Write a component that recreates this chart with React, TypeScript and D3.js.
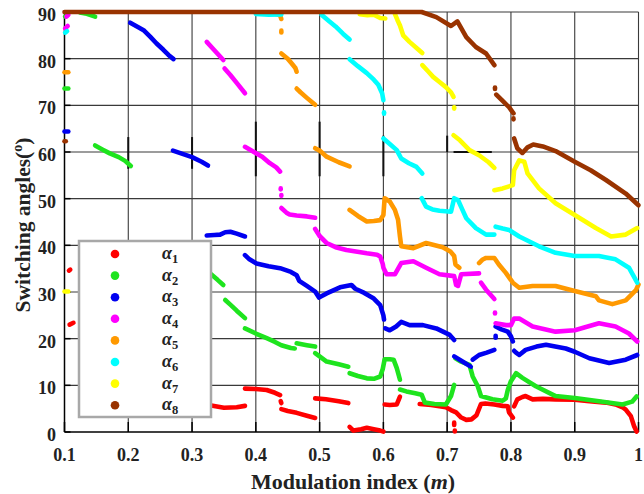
import React from "react";
import * as d3 from "d3";

type Pt = [number, number];
type Seg = Pt[];

// Switching angle solutions (modulation index m, angle in degrees), one list of branches per angle
const alpha1: Seg[] = [
  [[0.107, 34.6], [0.109, 34.8]],
  [[0.108, 23.0], [0.114, 23.4]],
  [[0.3, 5.9], [0.33, 5.7], [0.35, 5.2], [0.37, 5.3], [0.383, 5.6]],
  [[0.383, 9.3], [0.4, 9.2], [0.417, 9.0], [0.43, 8.4], [0.438, 7.9]],
  [[0.439, 6.6], [0.44, 6.2]],
  [[0.44, 4.9], [0.45, 4.5], [0.464, 4.1], [0.48, 3.5], [0.493, 3.0]],
  [[0.493, 7.2], [0.51, 7.0], [0.53, 6.6], [0.545, 6.2]],
  [[0.547, 1.1], [0.553, 0.3], [0.565, 0.6], [0.574, 0.9], [0.585, 0.6], [0.595, 0.3], [0.6, 0.1]],
  [[0.602, 5.9], [0.61, 5.8], [0.621, 5.9], [0.626, 7.6]],
  [[0.657, 6.0], [0.675, 5.8], [0.698, 5.3], [0.706, 4.7], [0.714, 4.2], [0.722, 3.1], [0.73, 2.6],
   [0.738, 2.7], [0.746, 3.6], [0.753, 6.0], [0.76, 6.1], [0.774, 5.9], [0.787, 5.6], [0.795, 5.5],
   [0.797, 4.2], [0.803, 3.1]],
  [[0.711, 2.0], [0.711, 1.5]],
  [[0.712, 0.3], [0.712, 0.1]],
  [[0.805, 5.5], [0.81, 7.0], [0.818, 7.5], [0.823, 7.7], [0.834, 7.0], [0.85, 7.1], [0.87, 7.0],
   [0.9, 6.9], [0.923, 6.6], [0.949, 6.3], [0.964, 5.9], [0.975, 5.3], [0.98, 4.8], [0.988, 3.4],
   [0.993, 1.3], [0.997, 0.1]],
];

const alpha2: Seg[] = [
  [[0.1, 73.6], [0.106, 73.6]],
  [[0.101, 89.0], [0.104, 89.3]],
  [[0.124, 89.9], [0.135, 89.6], [0.148, 89.0]],
  [[0.148, 61.4], [0.16, 60.5], [0.171, 59.7], [0.185, 58.9], [0.195, 58.1], [0.204, 57.0]],
  [[0.31, 36.0], [0.328, 34.0], [0.34, 32.6], [0.349, 31.5]],
  [[0.352, 28.3], [0.36, 27.3], [0.37, 26.0], [0.383, 24.4]],
  [[0.383, 22.2], [0.4, 21.1], [0.417, 20.1], [0.43, 19.3], [0.44, 18.6], [0.455, 18.0], [0.461, 17.9]],
  [[0.464, 19.0], [0.48, 18.6], [0.493, 18.3]],
  [[0.493, 16.9], [0.5, 16.2], [0.511, 15.1], [0.53, 14.5], [0.545, 14.0]],
  [[0.547, 12.6], [0.56, 12.0], [0.574, 11.5], [0.585, 11.4], [0.595, 11.9], [0.599, 13.5],
   [0.602, 15.6], [0.61, 15.6], [0.616, 15.5], [0.621, 13.7], [0.626, 11.2]],
  [[0.626, 9.1], [0.636, 8.7], [0.65, 8.3], [0.66, 8.0], [0.665, 6.3], [0.68, 6.0], [0.698, 5.9],
   [0.706, 7.7], [0.711, 10.1]],
  [[0.713, 15.8], [0.72, 15.2], [0.735, 14.4], [0.74, 11.9], [0.748, 9.8], [0.753, 7.7], [0.771, 7.0],
   [0.787, 6.7], [0.792, 7.2], [0.795, 9.0], [0.8, 10.9], [0.808, 12.6], [0.818, 11.6], [0.839, 9.8],
   [0.87, 7.7], [0.9, 7.3], [0.938, 6.6], [0.975, 5.9], [0.99, 6.5], [0.997, 7.6]],
];

const alpha3: Seg[] = [
  [[0.1, 64.4], [0.106, 64.4]],
  [[0.203, 87.7], [0.215, 86.8], [0.224, 86.1], [0.235, 84.6], [0.244, 83.3], [0.255, 81.9],
   [0.263, 80.8], [0.271, 79.9]],
  [[0.27, 60.3], [0.285, 59.6], [0.3, 58.9], [0.315, 57.9], [0.325, 57.1]],
  [[0.323, 42.1], [0.335, 42.2], [0.344, 42.3], [0.352, 42.8], [0.36, 42.9], [0.37, 42.5], [0.383, 41.9]],
  [[0.383, 37.9], [0.39, 37.0], [0.401, 36.1], [0.42, 35.5], [0.438, 35.1], [0.455, 34.3], [0.464, 33.6],
   [0.468, 32.4], [0.48, 31.3], [0.493, 30.1], [0.499, 28.8], [0.511, 29.7], [0.532, 31.0], [0.55, 31.5],
   [0.556, 30.7], [0.57, 29.8], [0.585, 28.6], [0.595, 27.2], [0.6, 25.0], [0.601, 24.1]],
  [[0.603, 22.2], [0.61, 21.8], [0.62, 22.6], [0.628, 23.6], [0.641, 22.9], [0.662, 22.9], [0.683, 22.2],
   [0.704, 20.8], [0.711, 19.7]],
  [[0.711, 16.2], [0.724, 15.1], [0.737, 14.0]],
  [[0.74, 15.5], [0.75, 16.5], [0.762, 17.0], [0.774, 17.6]],
  [[0.776, 20.2], [0.776, 20.6]],
  [[0.776, 22.6], [0.785, 22.0], [0.795, 21.5], [0.8, 20.5], [0.803, 19.4]],
  [[0.805, 17.4], [0.808, 17.0], [0.813, 16.5], [0.823, 17.6], [0.84, 18.3], [0.855, 18.7], [0.886, 17.9],
   [0.9, 17.2], [0.923, 15.8], [0.954, 14.8], [0.98, 15.5], [0.998, 16.5]],
];

const alpha4: Seg[] = [
  [[0.101, 86.5], [0.105, 87.0]],
  [[0.103, 89.0], [0.106, 89.4]],
  [[0.323, 83.6], [0.335, 81.8], [0.349, 79.7]],
  [[0.351, 77.9], [0.36, 76.5], [0.37, 74.8], [0.383, 72.6]],
  [[0.383, 61.1], [0.401, 59.7], [0.41, 59.0], [0.422, 57.6], [0.432, 56.7], [0.438, 55.8]],
  [[0.439, 52.2], [0.439, 52.0]],
  [[0.44, 50.8], [0.44, 50.6]],
  [[0.44, 48.0], [0.448, 47.0], [0.453, 46.6], [0.464, 46.4], [0.48, 46.2], [0.493, 45.9]],
  [[0.493, 43.5], [0.5, 42.0], [0.511, 40.5], [0.525, 39.6], [0.542, 39.0], [0.574, 38.3], [0.59, 38.0],
   [0.595, 37.6], [0.599, 36.0], [0.6, 35.2], [0.605, 33.8], [0.618, 33.8], [0.628, 36.2], [0.647, 36.6],
   [0.667, 35.2], [0.688, 33.8], [0.711, 33.4], [0.714, 31.5], [0.717, 31.3], [0.722, 33.8], [0.75, 34.0]],
  [[0.753, 32.0], [0.761, 30.5], [0.774, 28.5]],
  [[0.775, 25.6], [0.775, 25.4]],
  [[0.776, 23.3], [0.792, 22.9], [0.8, 22.9], [0.805, 24.3], [0.813, 24.3], [0.834, 22.6], [0.87, 21.5],
   [0.9, 21.8], [0.938, 23.3], [0.964, 22.6], [0.985, 21.1], [0.998, 19.4]],
];

const alpha5: Seg[] = [
  [[0.1, 77.1], [0.106, 77.1]],
  [[0.43, 89.6], [0.438, 89.3], [0.44, 88.5]],
  [[0.44, 86.0], [0.44, 85.6]],
  [[0.44, 81.1], [0.45, 80.0], [0.456, 79.0], [0.462, 78.0], [0.464, 77.2]],
  [[0.464, 73.6], [0.47, 72.8], [0.48, 71.6], [0.493, 70.1]],
  [[0.493, 60.8], [0.5, 60.3], [0.511, 59.0], [0.53, 57.8], [0.547, 56.9]],
  [[0.547, 47.6], [0.56, 46.3], [0.574, 45.1], [0.585, 45.2], [0.595, 45.4], [0.6, 46.5], [0.602, 50.1],
   [0.61, 49.4], [0.618, 47.6], [0.623, 45.5], [0.626, 41.9], [0.628, 39.8], [0.647, 39.4], [0.667, 40.5],
   [0.693, 39.6], [0.705, 38.7], [0.711, 37.7], [0.713, 35.9], [0.719, 35.2]],
  [[0.75, 36.2], [0.755, 36.9], [0.761, 37.3], [0.774, 37.3], [0.781, 35.9], [0.792, 34.1], [0.803, 32.0],
   [0.813, 30.9], [0.834, 31.3], [0.87, 31.3], [0.9, 30.2], [0.933, 29.1], [0.938, 28.2], [0.959, 27.4],
   [0.98, 28.2], [0.996, 30.4], [1.0, 31.6]],
];

const alpha6: Seg[] = [
  [[0.101, 85.6], [0.104, 85.9]],
  [[0.4, 89.6], [0.42, 89.4], [0.44, 89.5]],
  [[0.503, 89.4], [0.515, 88.0], [0.525, 86.9], [0.537, 85.3], [0.547, 84.1]],
  [[0.547, 79.9], [0.56, 78.4], [0.574, 76.9], [0.585, 75.5], [0.592, 74.4], [0.598, 72.6], [0.6, 71.1]],
  [[0.601, 68.5], [0.601, 68.2]],
  [[0.6, 62.9], [0.61, 61.7], [0.621, 60.4], [0.628, 58.6], [0.64, 57.6], [0.652, 56.8], [0.661, 55.4]],
  [[0.66, 50.1], [0.667, 48.3], [0.677, 47.7], [0.688, 47.4], [0.706, 47.2], [0.711, 50.1], [0.717, 49.7],
   [0.724, 47.6], [0.73, 45.8], [0.745, 43.7], [0.761, 42.3], [0.774, 42.3]],
  [[0.776, 44.0], [0.787, 43.6], [0.797, 43.3], [0.813, 41.9], [0.844, 39.8], [0.87, 38.4], [0.9, 37.7],
   [0.938, 37.7], [0.964, 37.0], [0.985, 35.2], [0.998, 32.0]],
];

const alpha7: Seg[] = [
  [[0.1, 30.1], [0.106, 30.1]],
  [[0.563, 89.5], [0.575, 89.3], [0.585, 89.4], [0.595, 88.7], [0.603, 88.6]],
  [[0.618, 89.6], [0.622, 88.3], [0.626, 87.1], [0.631, 85.0], [0.641, 83.6], [0.652, 82.3], [0.661, 81.2]],
  [[0.661, 78.6], [0.67, 77.3], [0.678, 76.1], [0.688, 75.0], [0.698, 73.9], [0.706, 72.8], [0.71, 71.8]],
  [[0.711, 69.6], [0.711, 69.3]],
  [[0.71, 63.6], [0.72, 62.5], [0.735, 60.4], [0.75, 59.3], [0.765, 57.8], [0.774, 56.6]],
  [[0.774, 51.8], [0.787, 52.2], [0.803, 52.9], [0.805, 56.1], [0.813, 58.2], [0.821, 57.9], [0.826, 55.4],
   [0.844, 52.2], [0.87, 49.0], [0.9, 46.5], [0.933, 43.7], [0.957, 41.9], [0.98, 42.3], [0.998, 43.7]],
];

const alpha8: Seg[] = [
  [[0.1, 62.3], [0.102, 62.3]],
  [[0.1, 90], [0.66, 90], [0.683, 88.9], [0.706, 87.0], [0.716, 88.0], [0.73, 84.6], [0.745, 82.5],
   [0.761, 81.1], [0.774, 78.6]],
  [[0.775, 73.8], [0.775, 73.5]],
  [[0.777, 72.3], [0.785, 71.2], [0.797, 69.6], [0.804, 68.3]],
  [[0.804, 67.2], [0.804, 67.0]],
  [[0.805, 62.9], [0.81, 60.8], [0.818, 59.8], [0.826, 61.0], [0.835, 61.6], [0.85, 61.2], [0.87, 60.2],
   [0.9, 57.9], [0.925, 56.1], [0.949, 54.0], [0.98, 51.1], [1.0, 48.6]],
];

const seriesData: Seg[][] = [alpha1, alpha2, alpha3, alpha4, alpha5, alpha6, alpha7, alpha8];
const seriesIndex = ["1", "2", "3", "4", "5", "6", "7", "8"];
const seriesColors = ["#ff0000", "#1ee41e", "#0000f0", "#ff00ff", "#ff9900", "#00ffff", "#ffff00", "#993300"];

const xTicks = [0.1, 0.2, 0.3, 0.4, 0.5, 0.6, 0.7, 0.8, 0.9, 1.0];
const xTickLabels = ["0.1", "0.2", "0.3", "0.4", "0.5", "0.6", "0.7", "0.8", "0.9", "1"];
const yTicks = [0, 10, 20, 30, 40, 50, 60, 70, 80, 90];

// darker stretches on some vertical grid lines: [m, angle from, angle to]
const gridAccents: [number, number, number][] = [
  [0.2, 63.2, 56.4], [0.3, 63.2, 56.4], [0.4, 66.5, 54.8], [0.5, 66.5, 54.8], [0.6, 63.5, 54.8], [0.7, 63.5, 60],
];

const FONT = "'Liberation Serif', 'Times New Roman', serif";

export default function App() {
  const W = 644;
  const H = 494;
  const x = d3.scaleLinear().domain([0.1, 1]).range([64.5, 638.5]);
  const y = d3.scaleLinear().domain([0, 90]).range([432, 12]);
  const line = d3.line<Pt>().x((d) => x(d[0])).y((d) => y(d[1]));

  const legendX = 79;
  const legendY = 241;
  const legendW = 132;
  const legendH = 176;
  const rowH = 21.6;

  return (
    <svg width={W} height={H} style={{ position: "absolute", left: 0, top: 0, background: "#fff" }}>
      <rect x={0} y={0} width={W} height={H} fill="#fff" />
      {/* grid */}
      <g stroke="#3a3a3a" strokeWidth={1.1}>
        {xTicks.slice(1).map((t) => (
          <line key={"gx" + t} x1={x(t)} x2={x(t)} y1={y(0)} y2={y(90)} />
        ))}
        {yTicks.slice(1).map((t) => (
          <line key={"gy" + t} x1={x(0.1)} x2={x(1)} y1={y(t)} y2={y(t)} />
        ))}
      </g>
      <g stroke="#111" strokeWidth={2}>
        {gridAccents.map(([m, a0, a1]) => (
          <line key={"ga" + m} x1={x(m)} x2={x(m)} y1={y(a0)} y2={y(a1)} />
        ))}
        <line x1={x(0.71)} x2={x(0.77)} y1={y(60)} y2={y(60)} />
      </g>
      {/* axes */}
      <g stroke="#000" strokeWidth={1.5}>
        <line x1={x(0.1)} x2={x(0.1)} y1={y(0)} y2={y(90)} />
        <line x1={x(0.1)} x2={x(1)} y1={y(0)} y2={y(0)} />
        {yTicks.map((t) => (
          <line key={"ty" + t} x1={x(0.1)} x2={x(0.1) + 6} y1={y(t)} y2={y(t)} />
        ))}
        {xTicks.map((t) => (
          <line key={"tx" + t} x1={x(t)} x2={x(t)} y1={y(0)} y2={y(0) - 10} />
        ))}
      </g>
      {/* series */}
      {seriesData.map((segs, i) => (
        <g key={"s" + i} fill="none" stroke={seriesColors[i]} strokeWidth={4.6} strokeLinecap="round" strokeLinejoin="round">
          {segs.map((seg, j) => (
            <path key={j} d={line(seg) || ""} />
          ))}
        </g>
      ))}
      {/* tick labels */}
      <g fontFamily={FONT} fontWeight="bold" fontSize={18} fill="#222">
        {yTicks.map((t) => (
          <text key={"ly" + t} x={56} y={y(t) + 9} textAnchor="end">
            {t}
          </text>
        ))}
        {xTicks.map((t, i) => (
          <text key={"lx" + t} x={x(t)} y={461} textAnchor="middle">
            {xTickLabels[i]}
          </text>
        ))}
      </g>
      {/* axis titles */}
      <text x={353} y={489} textAnchor="middle" fontFamily={FONT} fontWeight="bold" fontSize={22} fill="#222">
        Modulation index (<tspan fontStyle="italic">m</tspan>)
      </text>
      <text
        transform="translate(30,225) rotate(-90)"
        textAnchor="middle"
        fontFamily={FONT}
        fontWeight="bold"
        fontSize={21.5}
        fill="#222"
      >
        Switching angles(<tspan fontSize={14} dy={-8}>o</tspan><tspan dy={8}>)</tspan>
      </text>
      {/* legend */}
      <rect x={legendX} y={legendY} width={legendW} height={legendH} fill="#fff" stroke="#a8a8a8" strokeWidth={2.5} />
      {seriesIndex.map((s, i) => {
        const cy = legendY + 13 + i * rowH;
        return (
          <g key={"lg" + s}>
            <circle cx={115} cy={cy} r={4.3} fill={seriesColors[i]} />
            <text x={162} y={cy + 5} fontFamily={FONT} fontWeight="bold" fontStyle="italic" fontSize={18} fill="#222">
              α<tspan fontSize={12.5} dy={4} fontStyle="normal">{s}</tspan>
            </text>
          </g>
        );
      })}
    </svg>
  );
}
